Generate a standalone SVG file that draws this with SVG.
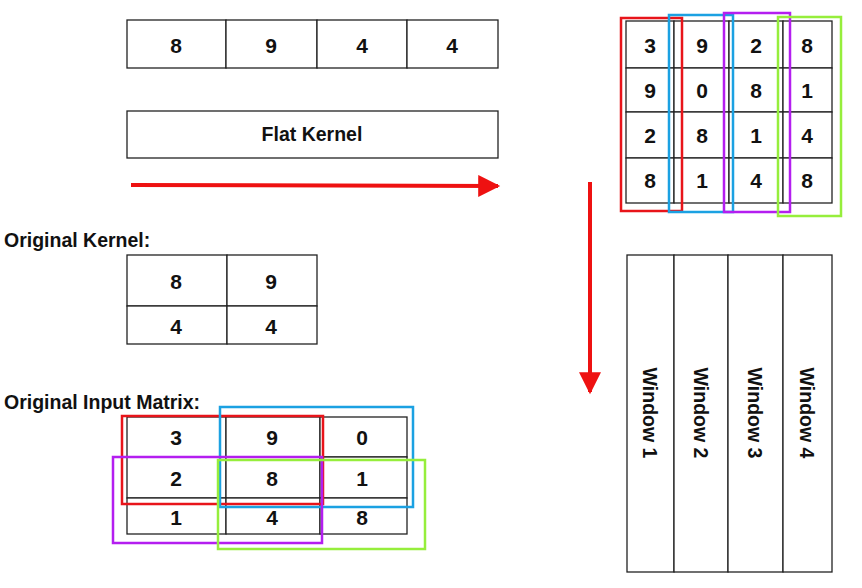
<svg xmlns="http://www.w3.org/2000/svg" width="862" height="588" viewBox="0 0 862 588">
<defs>
<style>
.c{fill:#fff;stroke:#222;stroke-width:1.3}
.n{font-family:"Liberation Sans",Arial,sans-serif;font-weight:bold;font-size:21px;fill:#111;text-anchor:middle;dominant-baseline:central}
.l{font-family:"Liberation Sans",Arial,sans-serif;font-weight:bold;font-size:19.5px;fill:#111}
.w{font-family:"Liberation Sans",Arial,sans-serif;font-weight:bold;font-size:19.5px;fill:#111;text-anchor:middle;dominant-baseline:central}
.r{fill:none;stroke:#e8141a;stroke-width:2.5}
.b{fill:none;stroke:#1ba1e2;stroke-width:2.5}
.p{fill:none;stroke:#b41ef0;stroke-width:2.5}
.g{fill:none;stroke:#96ee3c;stroke-width:2.5}
.a{fill:none;stroke:#ee1111;stroke-width:4}
</style>
<marker id="ah" viewBox="0 0 10 10" refX="9" refY="5" markerWidth="6" markerHeight="5.5" markerUnits="strokeWidth" orient="auto">
<path d="M0,0 L10,5 L0,10 Z" fill="#ee1111"/>
</marker>
</defs>
<rect width="862" height="588" fill="#fff"/>

<g id="flat-row">
<rect class="c" x="127" y="20" width="99" height="48"/>
<rect class="c" x="226" y="20" width="91" height="48"/>
<rect class="c" x="317" y="20" width="90" height="48"/>
<rect class="c" x="407" y="20" width="91" height="48"/>
<text class="n" x="176" y="45">8</text>
<text class="n" x="271" y="45">9</text>
<text class="n" x="362" y="45">4</text>
<text class="n" x="452" y="45">4</text>
</g>

<g id="flat-kernel">
<rect class="c" x="127" y="111" width="371" height="47"/>
<text class="n" x="312" y="134" style="font-size:19.5px">Flat Kernel</text>
</g>

<g id="original-kernel">
<text class="l" x="4" y="247">Original Kernel:</text>
<rect class="c" x="127" y="255" width="100" height="51"/>
<rect class="c" x="227" y="255" width="90" height="51"/>
<rect class="c" x="127" y="306" width="100" height="38"/>
<rect class="c" x="227" y="306" width="90" height="38"/>
<text class="n" x="176" y="281">8</text>
<text class="n" x="271" y="281">9</text>
<text class="n" x="176" y="326">4</text>
<text class="n" x="271" y="326">4</text>
</g>

<g id="input-matrix">
<text class="l" x="4" y="409">Original Input Matrix:</text>
<rect class="c" x="127" y="417" width="99" height="40"/>
<rect class="c" x="226" y="417" width="94" height="40"/>
<rect class="c" x="320" y="417" width="87" height="40"/>
<rect class="c" x="127" y="457" width="99" height="41"/>
<rect class="c" x="226" y="457" width="94" height="41"/>
<rect class="c" x="320" y="457" width="87" height="41"/>
<rect class="c" x="127" y="498" width="99" height="36"/>
<rect class="c" x="226" y="498" width="94" height="36"/>
<rect class="c" x="320" y="498" width="87" height="36"/>
<text class="n" x="176" y="437">3</text>
<text class="n" x="272" y="437">9</text>
<text class="n" x="362" y="437">0</text>
<text class="n" x="176" y="478">2</text>
<text class="n" x="272" y="478">8</text>
<text class="n" x="362" y="478">1</text>
<text class="n" x="176" y="517">1</text>
<text class="n" x="272" y="517">4</text>
<text class="n" x="362" y="517">8</text>
<rect class="r" x="122" y="416" width="201" height="88"/>
<rect class="b" x="220" y="407" width="193" height="100"/>
<rect class="p" x="113" y="457" width="209" height="86"/>
<rect class="g" x="218" y="460" width="207" height="89"/>
</g>

<g id="im2col-matrix">
<rect class="c" x="626" y="21" width="48" height="47"/>
<rect class="c" x="674" y="21" width="55" height="47"/>
<rect class="c" x="729" y="21" width="54" height="47"/>
<rect class="c" x="783" y="21" width="49" height="47"/>
<rect class="c" x="626" y="68" width="48" height="44"/>
<rect class="c" x="674" y="68" width="55" height="44"/>
<rect class="c" x="729" y="68" width="54" height="44"/>
<rect class="c" x="783" y="68" width="49" height="44"/>
<rect class="c" x="626" y="112" width="48" height="46"/>
<rect class="c" x="674" y="112" width="55" height="46"/>
<rect class="c" x="729" y="112" width="54" height="46"/>
<rect class="c" x="783" y="112" width="49" height="46"/>
<rect class="c" x="626" y="158" width="48" height="45"/>
<rect class="c" x="674" y="158" width="55" height="45"/>
<rect class="c" x="729" y="158" width="54" height="45"/>
<rect class="c" x="783" y="158" width="49" height="45"/>
<text class="n" x="650" y="45">3</text>
<text class="n" x="702" y="45">9</text>
<text class="n" x="756" y="45">2</text>
<text class="n" x="807" y="45">8</text>
<text class="n" x="650" y="90">9</text>
<text class="n" x="702" y="90">0</text>
<text class="n" x="756" y="90">8</text>
<text class="n" x="807" y="90">1</text>
<text class="n" x="650" y="135">2</text>
<text class="n" x="702" y="135">8</text>
<text class="n" x="756" y="135">1</text>
<text class="n" x="807" y="135">4</text>
<text class="n" x="650" y="180">8</text>
<text class="n" x="702" y="180">1</text>
<text class="n" x="756" y="180">4</text>
<text class="n" x="807" y="180">8</text>
<rect class="r" x="621" y="18" width="61" height="193"/>
<rect class="b" x="669" y="15" width="64" height="197"/>
<rect class="p" x="724" y="13" width="66" height="199"/>
<rect class="g" x="778" y="17" width="63" height="199"/>
</g>

<g id="windows">
<rect class="c" x="627" y="255" width="47" height="317"/>
<rect class="c" x="674" y="255" width="54" height="317"/>
<rect class="c" x="728" y="255" width="55" height="317"/>
<rect class="c" x="783" y="255" width="49" height="317"/>
<text class="w" transform="translate(650,413) rotate(90)">Window 1</text>
<text class="w" transform="translate(701,413) rotate(90)">Window 2</text>
<text class="w" transform="translate(755,413) rotate(90)">Window 3</text>
<text class="w" transform="translate(807,413) rotate(90)">Window 4</text>
</g>

<g id="connectors">
<line class="a" x1="131" y1="185" x2="498" y2="186" marker-end="url(#ah)"/>
<line class="a" x1="590" y1="182" x2="590" y2="392" marker-end="url(#ah)"/>
</g>
</svg>
